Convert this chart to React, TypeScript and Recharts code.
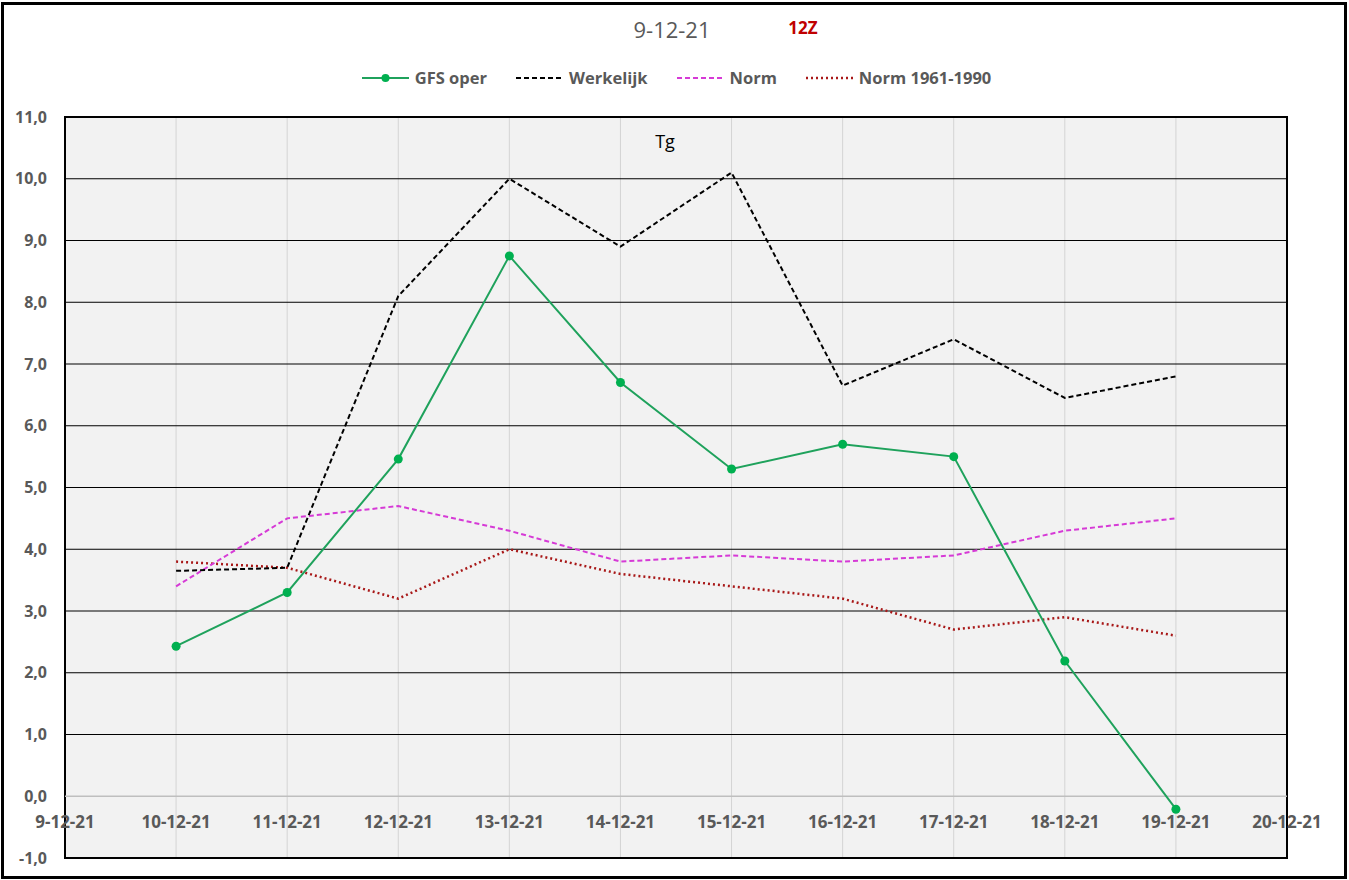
import React from "react";
import {
  LineChart,
  Line,
  XAxis,
  YAxis,
  CartesianGrid,
  ReferenceLine,
  ReferenceArea,
} from "recharts";

const days = [10, 11, 12, 13, 14, 15, 16, 17, 18, 19];
const gfsOper = [2.43, 3.3, 5.46, 8.75, 6.7, 5.3, 5.7, 5.5, 2.19, -0.21];
const werkelijk = [3.65, 3.7, 8.1, 10.0, 8.9, 10.1, 6.65, 7.4, 6.45, 6.8];
const norm = [3.4, 4.5, 4.7, 4.3, 3.8, 3.9, 3.8, 3.9, 4.3, 4.5];
const norm6190 = [3.8, 3.7, 3.2, 4.0, 3.6, 3.4, 3.2, 2.7, 2.9, 2.6];

const xTicks = [9, 10, 11, 12, 13, 14, 15, 16, 17, 18, 19, 20];
const xTickLabels = [
  "9-12-21", "10-12-21", "11-12-21", "12-12-21", "13-12-21", "14-12-21",
  "15-12-21", "16-12-21", "17-12-21", "18-12-21", "19-12-21", "20-12-21",
];
const yTicks = [-1, 0, 1, 2, 3, 4, 5, 6, 7, 8, 9, 10, 11];

const title = "9-12-21";
const runLabel = "12Z";
const panelLabel = "Tg";

const series = [
  { key: "gfs", name: "GFS oper", color: "#1fa25c", dash: undefined as string | undefined, dot: true, width: 2 },
  { key: "werk", name: "Werkelijk", color: "#000000", dash: "5 3", dot: false, width: 2 },
  { key: "norm", name: "Norm", color: "#d63ad6", dash: "5 3", dot: false, width: 2 },
  { key: "norm6190", name: "Norm 1961-1990", color: "#a81818", dash: "2 3", dot: false, width: 2.5 },
];

const data = days.map((d, i) => ({
  day: d,
  gfs: gfsOper[i],
  werk: werkelijk[i],
  norm: norm[i],
  norm6190: norm6190[i],
}));

const FONT = "'Open Sans', 'DejaVu Sans', sans-serif";
const GRAY = "#595959";

const XTick = (props: any) => {
  const { x, y, payload } = props;
  const idx = xTicks.indexOf(payload.value);
  return (
    <text
      x={x}
      y={y - 30}
      textAnchor="middle"
      fontFamily={FONT}
      fontWeight="bold"
      fontSize={17}
      fill={GRAY}
    >
      {idx >= 0 ? xTickLabels[idx] : ""}
    </text>
  );
};

const YTick = (props: any) => {
  const { y, payload } = props;
  return (
    <text
      x={47}
      y={y}
      dy="0.35em"
      textAnchor="end"
      fontFamily={FONT}
      fontWeight="bold"
      fontSize={16}
      fill={GRAY}
    >
      {payload.value.toFixed(1).replace(".", ",")}
    </text>
  );
};

const LegendBar = () => (
  <div
    style={{
      position: "absolute",
      top: 66,
      left: 0,
      width: 1349,
      display: "flex",
      justifyContent: "center",
      gap: 29,
      fontFamily: FONT,
      fontWeight: "bold",
      fontSize: 16.5,
      color: GRAY,
      paddingLeft: 4,
      boxSizing: "border-box",
    }}
  >
    {series.map((s) => (
      <div key={s.key} style={{ display: "flex", alignItems: "center", gap: 6 }}>
        <svg width={47} height={24}>
          <line
            x1={0}
            y1={12}
            x2={47}
            y2={12}
            stroke={s.color}
            strokeWidth={s.width}
            strokeDasharray={s.dash}
          />
          {s.dot && <circle cx={23.5} cy={12} r={4} fill="#00b050" />}
        </svg>
        <span style={{ lineHeight: "24px" }}>{s.name}</span>
      </div>
    ))}
  </div>
);

export default function App() {
  return (
    <div
      style={{
        position: "absolute",
        left: 0,
        top: 0,
        width: 1349,
        height: 880,
        background: "#ffffff",
      }}
    >
      <LineChart
        width={1349}
        height={880}
        data={data}
        margin={{ top: 117, right: 62, bottom: 0, left: 0 }}
      >
        <CartesianGrid
          horizontal={false}
          vertical={true}
          stroke="#d4d4d4"
          fill="#f2f2f2"
          fillOpacity={1}
        />
        <XAxis
          dataKey="day"
          type="number"
          domain={[9, 20]}
          ticks={xTicks}
          height={22}
          axisLine={false}
          tickLine={false}
          tickSize={0}
          tickMargin={0}
          tick={<XTick />}
          interval={0}
        />
        <YAxis
          type="number"
          domain={[-1, 11]}
          ticks={yTicks}
          width={65}
          axisLine={false}
          tickLine={false}
          tick={<YTick />}
          interval={0}
        />
        {yTicks
          .filter((t) => t !== 0)
          .map((t) => (
            <ReferenceLine key={t} y={t} stroke="#000000" strokeWidth={1} />
          ))}
        <ReferenceLine y={0} stroke="#bfbfbf" strokeWidth={1.5} />
        <Line
          dataKey="norm6190"
          name="Norm 1961-1990"
          stroke="#a81818"
          strokeWidth={2.5}
          strokeDasharray="2 3"
          dot={false}
          isAnimationActive={false}
        />
        <Line
          dataKey="norm"
          name="Norm"
          stroke="#d63ad6"
          strokeWidth={2}
          strokeDasharray="5 3"
          dot={false}
          isAnimationActive={false}
        />
        <Line
          dataKey="werk"
          name="Werkelijk"
          stroke="#000000"
          strokeWidth={2}
          strokeDasharray="5 3"
          dot={false}
          isAnimationActive={false}
        />
        <Line
          dataKey="gfs"
          name="GFS oper"
          stroke="#1fa25c"
          strokeWidth={2}
          dot={{ r: 4.5, fill: "#00b050", stroke: "none" }}
          isAnimationActive={false}
        />
        <ReferenceArea
          x1={9}
          x2={20}
          y1={-1}
          y2={11}
          fill="none"
          stroke="#000000"
          strokeWidth={2}
          ifOverflow="visible"
        />
      </LineChart>

      <div
        style={{
          position: "absolute",
          left: 572,
          width: 200,
          top: 14,
          textAlign: "center",
          fontFamily: FONT,
          fontSize: 22,
          color: GRAY,
        }}
      >
        {title}
      </div>
      <div
        style={{
          position: "absolute",
          left: 753,
          width: 100,
          top: 16,
          textAlign: "center",
          fontFamily: FONT,
          fontWeight: "bold",
          fontSize: 17,
          color: "#c00000",
        }}
      >
        {runLabel}
      </div>
      <div
        style={{
          position: "absolute",
          left: 615,
          width: 100,
          top: 129,
          textAlign: "center",
          fontFamily: FONT,
          fontSize: 18,
          color: "#000000",
        }}
      >
        {panelLabel}
      </div>
      <LegendBar />
      <div
        style={{
          position: "absolute",
          left: 1,
          top: 2,
          width: 1346,
          height: 877,
          border: "3px solid #000000",
          boxSizing: "border-box",
          pointerEvents: "none",
        }}
      />
    </div>
  );
}
